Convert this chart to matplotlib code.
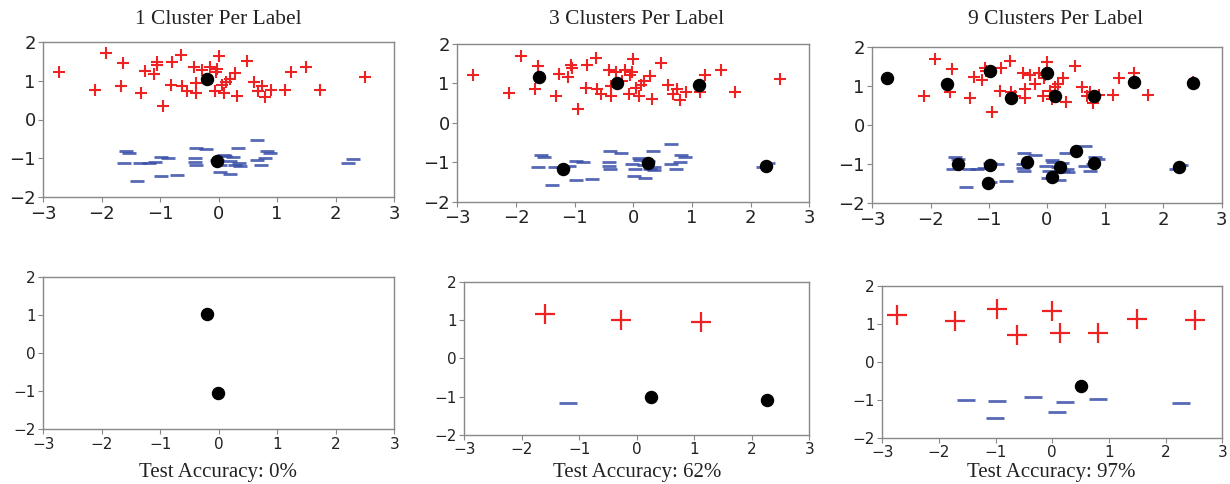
import matplotlib
matplotlib.use("Agg")
import matplotlib.pyplot as plt
import numpy as np

# ---- data ----
plus_x = [-2.73, -2.12, -1.92, -1.63, -1.67, -1.26, -1.32, -1.11, -1.06, -1.05, -0.95,
          -0.79, -0.81, -0.64, -0.62, -0.55, -0.42, -0.38, -0.38, -0.29, -0.14, -0.05,
          -0.07, 0.00, 0.05, 0.09, 0.13, 0.19, 0.28, 0.32, 0.48, 0.60, 0.68, 0.74,
          0.79, 0.90, 1.13, 1.23, 1.50, 1.74, 2.50, -0.20, -0.03]
plus_y = [1.22, 0.75, 1.70, 1.44, 0.86, 1.25, 0.69, 1.16, 1.48, 1.40, 0.34,
          1.48, 0.88, 1.65, 0.86, 0.74, 1.35, 0.93, 0.69, 1.28, 1.34, 1.22,
          0.74, 1.63, 0.88, 0.67, 0.97, 1.05, 1.20, 0.60, 1.51, 0.97, 0.74, 0.86,
          0.58, 0.77, 0.77, 1.22, 1.35, 0.77, 1.10, 1.05, 1.30]
minus_x = [-1.58, -1.53, -1.62, -1.34, -1.39, -1.09, -0.98, -0.86, -0.98, -0.71,
           -0.39, -0.21, -0.41, -0.41, -0.39, 0.02, 0.20, 0.11, 0.25, 0.19, 0.28,
           0.33, 0.35, 0.36, 0.65, 0.65, 0.73, 0.82, 0.88, 0.79, 2.30, 2.21,
           0.03, 0.09, -0.02, -1.20]
minus_y = [-0.81, -0.86, -1.13, -1.13, -1.58, -1.10, -0.97, -0.99, -1.45, -1.42,
           -0.72, -0.76, -0.99, -1.10, -1.17, -1.36, -1.39, -0.93, -0.96, -1.06, -1.17,
           -0.72, -1.13, -1.20, -0.53, -1.04, -1.16, -0.81, -0.86, -1.00, -1.01, -1.11,
           -1.16, -0.90, -1.05, -1.12]

# cluster centres: (x, y, true label, correctly classified)
c1_x = [-0.20, -0.02]
c1_y = [1.03, -1.06]
c1_lab = ['+', '-']
c1_ok = [False, False]

c3_x = [-1.60, -0.27, 1.12, -1.20, 0.25, 2.27]
c3_y = [1.17, 1.00, 0.95, -1.16, -1.02, -1.10]
c3_lab = ['+', '+', '+', '-', '-', '-']
c3_ok = [True, True, True, True, False, False]

c9_x = [-2.74, -1.72, -0.98, -0.62, 0.00, 0.14, 0.81, 1.50, 2.51,
        -1.52, -0.98, -1.02, -0.34, 0.09, 0.23, 0.50, 0.80, 2.27]
c9_y = [1.22, 1.06, 1.39, 0.71, 1.33, 0.76, 0.76, 1.12, 1.09,
        -1.00, -1.03, -1.49, -0.93, -1.32, -1.06, -0.65, -0.97, -1.08]
c9_lab = ['+'] * 9 + ['-'] * 9
c9_ok = [True] * 9 + [True, True, True, True, True, True, False, True, True]

titles = ["1 Cluster Per Label", "3 Clusters Per Label", "9 Clusters Per Label"]
accs = ["Test Accuracy: 0%", "Test Accuracy: 62%", "Test Accuracy: 97%"]
centres = [(c1_x, c1_y, c1_lab, c1_ok), (c3_x, c3_y, c3_lab, c3_ok), (c9_x, c9_y, c9_lab, c9_ok)]

RED = '#ee2222'
BLUE = '#3a4fa8'
SERIF = ['Liberation Serif', 'DejaVu Serif']

W, H = 1230, 484
fig = plt.figure(figsize=(W / 100, H / 100), dpi=100)

def box(l, t, r, b):
    return [l / W, 1 - b / H, (r - l) / W, (b - t) / H]

top_boxes = [box(43.3, 41.7, 394, 197.3), box(457.3, 44, 809.3, 201.7), box(872.3, 47.3, 1221.7, 203.3)]
bot_boxes = [box(43.3, 276.7, 394.3, 429.3), box(464.3, 282, 809.3, 434.7), box(882.3, 285.7, 1222.3, 437.7)]
title_pos = [(218, 20), (637, 20), (1056, 20)]
acc_pos = [(218, 473), (637, 473), (1051, 473)]

def style(ax, fs):
    ax.set_xlim(-3, 3)
    ax.set_ylim(-2, 2)
    ax.set_xticks([-3, -2, -1, 0, 1, 2, 3])
    ax.set_yticks([-2, -1, 0, 1, 2])
    for s in ax.spines.values():
        s.set_color('#888888')
        s.set_linewidth(1.0)
    ax.tick_params(colors='#888888', labelcolor='#222222', labelsize=fs, length=3.5, pad=2)

for i in range(3):
    ax = fig.add_axes(top_boxes[i])
    ax.scatter(plus_x, plus_y, marker='+', s=80, color=RED, linewidths=1.5, zorder=2)
    ax.scatter(minus_x, minus_y, marker='_', s=90, color=BLUE, linewidths=2.0, alpha=0.85, zorder=2)
    cx, cy, _, _ = centres[i]
    ax.scatter(cx, cy, marker='o', s=75, color='black', zorder=3)
    style(ax, 13)
    tx, ty = title_pos[i]
    fig.text(tx / W, 1 - ty / H, titles[i], fontsize=15.5, family=SERIF, color='#222222',
             ha='center', va='center')

for i in range(3):
    ax = fig.add_axes(bot_boxes[i])
    cx, cy, lab, ok = centres[i]
    for x, y, l, k in zip(cx, cy, lab, ok):
        if not k:
            ax.scatter([x], [y], marker='o', s=75, color='black', zorder=3)
        elif l == '+':
            ax.scatter([x], [y], marker='+', s=200, color=RED, linewidths=1.6, zorder=3)
        else:
            ax.scatter([x], [y], marker='_', s=150, color=BLUE, linewidths=2.0, alpha=0.85, zorder=3)
    style(ax, 11)
    tx, ty = acc_pos[i]
    fig.text(tx / W, 1 - ty / H, accs[i], fontsize=15, family=SERIF, color='#222222',
             ha='center', va='center')

fig.savefig('out.png', dpi=100)
